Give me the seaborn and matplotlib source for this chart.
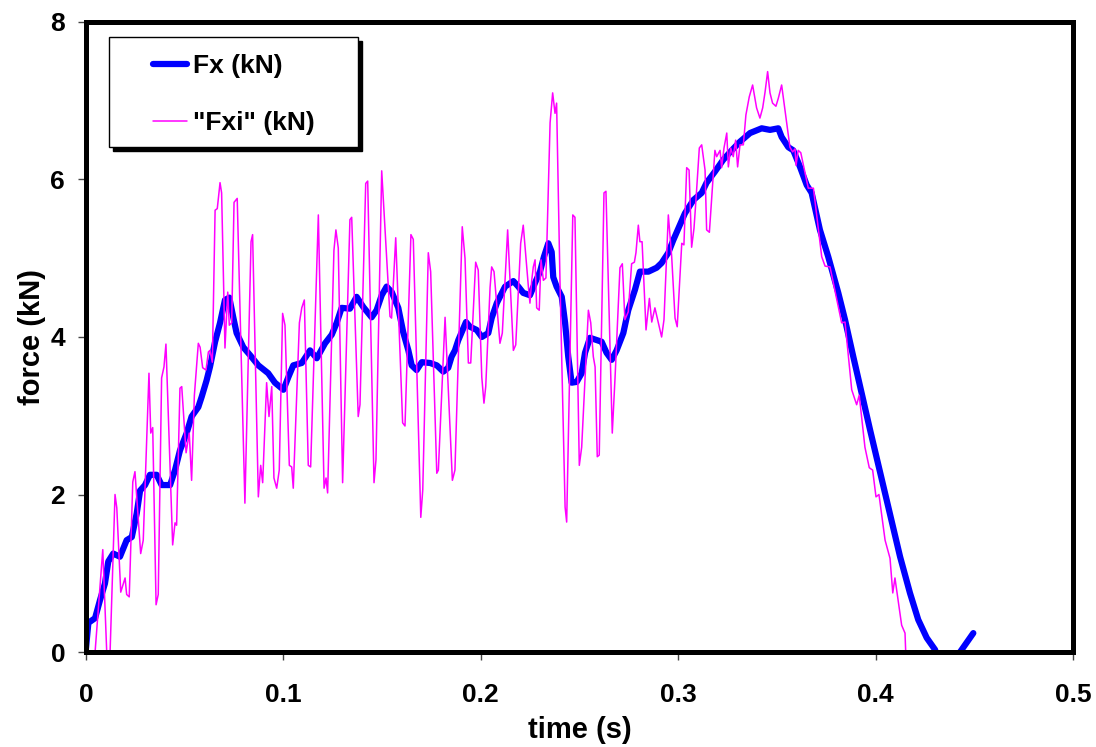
import matplotlib
matplotlib.use("Agg")
import matplotlib.pyplot as plt
from matplotlib.patches import Rectangle
import seaborn as sns
import pandas as pd

# ---- data: Fx (kN) ----
fx_time = [0.0, 0.0012, 0.0046, 0.0071, 0.0096, 0.0113, 0.0138, 0.0172, 0.0206, 0.0232,
           0.0257, 0.0274, 0.0299, 0.0324, 0.0358, 0.0383, 0.0426, 0.0451, 0.0476, 0.0510,
           0.0535, 0.0569, 0.0586, 0.0611, 0.0628, 0.0654, 0.0679, 0.0704, 0.0726, 0.0746,
           0.0763, 0.0797, 0.0831, 0.0873, 0.0923, 0.0957, 0.1000, 0.1025, 0.1050, 0.1093,
           0.1135, 0.1169, 0.1211, 0.1245, 0.1270, 0.1295, 0.1337, 0.1371, 0.1405, 0.1447,
           0.1472, 0.1498, 0.1523, 0.1549, 0.1582, 0.1607, 0.1633, 0.1650, 0.1675, 0.1701,
           0.1743, 0.1777, 0.1810, 0.1835, 0.1852, 0.1869, 0.1886, 0.1903, 0.1925, 0.1945,
           0.1979, 0.2005, 0.2038, 0.2055, 0.2081, 0.2097, 0.2123, 0.2165, 0.2190, 0.2215,
           0.2249, 0.2275, 0.2300, 0.2320, 0.2342, 0.2359, 0.2367, 0.2384, 0.2410, 0.2427,
           0.2443, 0.2460, 0.2486, 0.2511, 0.2528, 0.2553, 0.2612, 0.2637, 0.2663, 0.2688,
           0.2722, 0.2747, 0.2781, 0.2806, 0.2849, 0.2891, 0.2916, 0.2950, 0.2975, 0.3001,
           0.3034, 0.3077, 0.3119, 0.3144, 0.3186, 0.3228, 0.3271, 0.3313, 0.3364, 0.3423,
           0.3465, 0.3507, 0.3524, 0.3558, 0.3583, 0.3617, 0.3651, 0.3676, 0.3718, 0.3760,
           0.3811, 0.3845, 0.3887, 0.3972, 0.4056, 0.4124, 0.4174, 0.4216, 0.4259, 0.4301,
           0.4330, 0.4380, 0.4420, 0.4428, 0.4470, 0.4495]
fx_force = [0.05, 0.37, 0.43, 0.66, 0.87, 1.15, 1.25, 1.21, 1.42, 1.46,
            1.76, 2.05, 2.12, 2.25, 2.25, 2.12, 2.12, 2.31, 2.56, 2.78,
            2.99, 3.11, 3.24, 3.45, 3.62, 3.94, 4.18, 4.47, 4.50, 4.25,
            4.05, 3.87, 3.77, 3.64, 3.54, 3.42, 3.33, 3.49, 3.64, 3.67,
            3.83, 3.73, 3.92, 4.03, 4.18, 4.37, 4.36, 4.51, 4.38, 4.25,
            4.34, 4.53, 4.64, 4.57, 4.37, 4.06, 3.83, 3.64, 3.58, 3.68,
            3.67, 3.64, 3.56, 3.61, 3.75, 3.83, 3.96, 4.06, 4.19, 4.13,
            4.09, 4.00, 4.05, 4.24, 4.43, 4.51, 4.64, 4.71, 4.64, 4.56,
            4.53, 4.69, 4.83, 5.02, 5.19, 5.08, 4.76, 4.64, 4.51, 4.18,
            3.75, 3.42, 3.43, 3.54, 3.80, 3.99, 3.94, 3.80, 3.71, 3.83,
            4.05, 4.34, 4.60, 4.83, 4.83, 4.88, 4.94, 5.07, 5.23, 5.38,
            5.57, 5.74, 5.83, 5.96, 6.10, 6.25, 6.37, 6.48, 6.59, 6.65,
            6.63, 6.65, 6.54, 6.41, 6.37, 6.16, 5.93, 5.83, 5.36, 5.02,
            4.56, 4.22, 3.75, 2.82, 1.93, 1.21, 0.75, 0.41, 0.18, 0.03,
            -0.20, -0.40, -0.20, 0.00, 0.15, 0.24]

# ---- data: "Fxi" (kN) ----
fxi_time = [0.0046, 0.0085, 0.0105, 0.0122, 0.0147, 0.0156, 0.0176, 0.0198, 0.0206, 0.0219,
            0.0237, 0.0248, 0.0277, 0.0290, 0.0319, 0.0328, 0.0338, 0.0355, 0.0366, 0.0383,
            0.0395, 0.0405, 0.0439, 0.0451, 0.0459, 0.0476, 0.0485, 0.0507, 0.0523, 0.0535,
            0.0549, 0.0569, 0.0578, 0.0591, 0.0608, 0.0620, 0.0628, 0.0640, 0.0654, 0.0665,
            0.0679, 0.0687, 0.0704, 0.0718, 0.0726, 0.0738, 0.0750, 0.0766, 0.0805, 0.0836,
            0.0844, 0.0873, 0.0885, 0.0895, 0.0915, 0.0927, 0.0941, 0.0952, 0.0966, 0.0979,
            0.0996, 0.1008, 0.1030, 0.1042, 0.1050, 0.1081, 0.1093, 0.1106, 0.1126, 0.1138,
            0.1177, 0.1206, 0.1216, 0.1224, 0.1256, 0.1266, 0.1278, 0.1300, 0.1337, 0.1346,
            0.1379, 0.1388, 0.1417, 0.1427, 0.1459, 0.1469, 0.1498, 0.1515, 0.1540, 0.1548,
            0.1569, 0.1604, 0.1616, 0.1646, 0.1658, 0.1696, 0.1706, 0.1734, 0.1746, 0.1777,
            0.1785, 0.1819, 0.1856, 0.1869, 0.1906, 0.1920, 0.1937, 0.1949, 0.1974, 0.1987,
            0.2005, 0.2016, 0.2025, 0.2047, 0.2055, 0.2067, 0.2097, 0.2109, 0.2136, 0.2165,
            0.2177, 0.2202, 0.2215, 0.2241, 0.2249, 0.2258, 0.2266, 0.2275, 0.2283, 0.2296,
            0.2305, 0.2317, 0.2330, 0.2351, 0.2364, 0.2376, 0.2384, 0.2401, 0.2427, 0.2435,
            0.2466, 0.2477, 0.2499, 0.2511, 0.2545, 0.2557, 0.2570, 0.2579, 0.2590, 0.2600,
            0.2624, 0.2634, 0.2666, 0.2680, 0.2705, 0.2717, 0.2730, 0.2747, 0.2764, 0.2778,
            0.2786, 0.2798, 0.2806, 0.2817, 0.2837, 0.2854, 0.2866, 0.2882, 0.2916, 0.2928,
            0.2950, 0.2967, 0.2984, 0.2995, 0.3018, 0.3029, 0.3043, 0.3055, 0.3068, 0.3080,
            0.3090, 0.3107, 0.3119, 0.3136, 0.3144, 0.3158, 0.3186, 0.3195, 0.3212, 0.3220,
            0.3232, 0.3246, 0.3254, 0.3266, 0.3279, 0.3291, 0.3301, 0.3313, 0.3330, 0.3343,
            0.3360, 0.3377, 0.3397, 0.3414, 0.3428, 0.3440, 0.3453, 0.3465, 0.3478, 0.3495,
            0.3507, 0.3524, 0.3541, 0.3566, 0.3580, 0.3592, 0.3597, 0.3608, 0.3621, 0.3659,
            0.3685, 0.3727, 0.3744, 0.3769, 0.3828, 0.3845, 0.3879, 0.3904, 0.3917, 0.3946,
            0.3968, 0.3985, 0.4002, 0.4017, 0.4048, 0.4073, 0.4087, 0.4098, 0.4132, 0.4149,
            0.4154]
fxi_force = [0.00, 1.30, 0.00, 0.00, 2.00, 1.83, 0.76, 0.94, 0.73, 0.70,
             2.16, 2.29, 1.25, 1.42, 3.54, 2.78, 2.85, 0.60, 0.73, 3.48,
             3.62, 3.91, 1.36, 1.64, 1.61, 3.35, 3.37, 2.53, 2.78, 2.18,
             3.26, 3.92, 3.87, 3.61, 3.58, 3.81, 3.83, 3.68, 5.61, 5.63,
             5.96, 5.83, 3.86, 4.57, 4.15, 4.18, 5.71, 5.76, 1.89, 5.21,
             5.30, 1.97, 2.37, 2.15, 3.42, 2.99, 3.37, 2.21, 2.08, 2.31,
             4.30, 4.15, 2.37, 2.35, 2.08, 4.18, 4.37, 4.47, 2.37, 2.35,
             5.55, 2.08, 2.21, 2.02, 5.10, 5.36, 5.13, 2.15, 5.49, 5.52,
             2.99, 3.14, 5.95, 5.98, 2.15, 2.44, 6.11, 5.36, 4.26, 4.24,
             5.26, 2.91, 2.87, 5.30, 5.24, 1.71, 2.06, 5.07, 4.83, 2.27,
             2.31, 4.25, 2.18, 2.31, 5.40, 5.00, 3.67, 3.67, 4.95, 4.85,
             3.49, 3.16, 3.37, 4.63, 4.89, 4.83, 3.92, 4.05, 5.36, 3.83,
             3.90, 5.19, 5.42, 4.64, 4.43, 4.72, 4.89, 4.98, 4.37, 4.34,
             4.98, 4.72, 4.75, 6.72, 7.10, 6.84, 6.97, 4.72, 1.84, 1.65,
             5.55, 5.52, 2.37, 2.60, 4.34, 4.18, 3.75, 3.62, 2.48, 2.50,
             5.83, 5.85, 2.78, 3.48, 4.88, 4.93, 4.22, 4.32, 4.93, 4.95,
             5.07, 5.42, 5.21, 5.21, 4.09, 4.49, 4.19, 4.37, 4.00, 4.22,
             5.55, 5.02, 4.24, 4.13, 5.19, 5.17, 6.15, 6.12, 5.14, 5.38,
             5.74, 6.40, 6.44, 6.12, 5.36, 5.33, 6.37, 6.29, 6.37, 6.15,
             6.40, 6.59, 6.16, 6.40, 6.29, 6.50, 6.16, 6.44, 6.44, 6.82,
             7.05, 7.20, 6.91, 6.78, 6.91, 7.11, 7.37, 7.10, 6.97, 6.93,
             7.03, 7.20, 6.88, 6.41, 6.35, 6.39, 6.18, 6.37, 6.34, 5.89,
             5.89, 5.02, 4.90, 4.89, 4.18, 4.19, 3.33, 3.14, 3.26, 2.60,
             2.34, 2.31, 1.97, 2.00, 1.42, 1.19, 0.75, 0.94, 0.34, 0.24,
             -0.10]

x_ticks = [0, 0.1, 0.2, 0.3, 0.4, 0.5]
x_tick_labels = ["0", "0.1", "0.2", "0.3", "0.4", "0.5"]
y_ticks = [0, 2, 4, 6, 8]
y_tick_labels = ["0", "2", "4", "6", "8"]

df_fx = pd.DataFrame({"time": fx_time, "force": fx_force})
df_fxi = pd.DataFrame({"time": fxi_time, "force": fxi_force})

sns.set_theme(style="white")
plt.rcParams["font.family"] = ["Liberation Sans", "DejaVu Sans"]
plt.rcParams["font.weight"] = "bold"
plt.rcParams["text.color"] = "black"
plt.rcParams["axes.labelcolor"] = "black"

fig = plt.figure(figsize=(10.96, 7.47), dpi=100)
ax = fig.add_axes([86 / 1096, 1 - 652 / 747, 987 / 1096, 630 / 747])

sns.lineplot(data=df_fx, x="time", y="force", ax=ax, color="#0000FF", linewidth=4.5,
             sort=False, estimator=None, label="Fx (kN)")
sns.lineplot(data=df_fxi, x="time", y="force", ax=ax, color="#FF00FF", linewidth=1.1,
             sort=False, estimator=None, label='"Fxi" (kN)')

ax.set_xlim(0, 0.5)
ax.set_ylim(0, 8)
ax.set_xticks(x_ticks)
ax.set_xticklabels(x_tick_labels)
ax.set_yticks(y_ticks)
ax.set_yticklabels(y_tick_labels)
ax.tick_params(axis="both", which="major", direction="out", length=6, width=1,
               color="#444444", labelsize=19, labelcolor="black",
               bottom=True, left=True, top=False, right=False)
ax.tick_params(axis="x", pad=16)
ax.tick_params(axis="y", pad=9)
for lab in ax.get_xticklabels() + ax.get_yticklabels():
    lab.set_fontweight("bold")

ax.set_xlabel("time (s)", fontsize=21, fontweight="bold", labelpad=7, color="black")
ax.set_ylabel("force (kN)", fontsize=21, fontweight="bold", labelpad=3, color="black")

for sp in ax.spines.values():
    sp.set_visible(True)
    sp.set_color("black")
    sp.set_linewidth(3.6)
    sp.set_zorder(12)
ax.grid(False)

# legend box with shadow
bx, by, bw, bh = 23 / 987, (652 - 147.3) / 630, 249 / 987, 110.6 / 630
ax.add_patch(Rectangle((bx + 4 / 987, by - 4 / 630), bw, bh, transform=ax.transAxes,
                       facecolor="black", edgecolor="black", zorder=9, clip_on=False))
ax.add_patch(Rectangle((bx, by), bw, bh, transform=ax.transAxes,
                       facecolor="white", edgecolor="black", linewidth=1, zorder=10,
                       clip_on=False))
leg = ax.legend(loc="upper left", bbox_to_anchor=(67 / 987, (652 - 54) / 630),
                frameon=False, borderpad=0, borderaxespad=0, handlelength=1.3,
                handletextpad=0.2, labelspacing=1.25,
                prop={"family": ["Liberation Sans"], "weight": "bold", "size": 19})
leg.set_zorder(11)
for t in leg.get_texts():
    t.set_color("black")

fig.savefig("out.png", dpi=100)
